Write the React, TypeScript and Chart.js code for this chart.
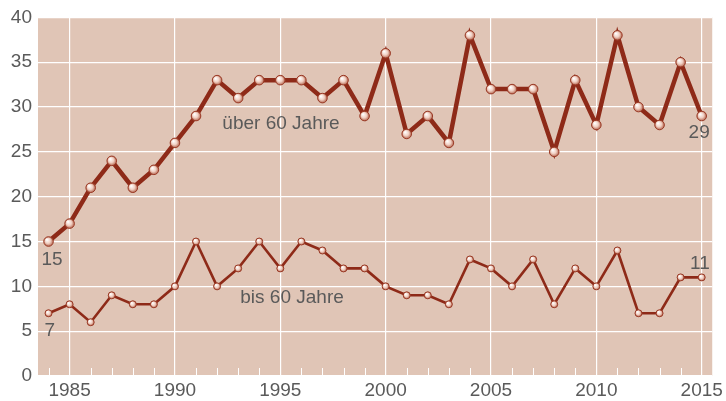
import React, { useEffect, useRef } from "react";
import { Chart, registerables } from "chart.js";

Chart.register(...registerables);

const years = [1984, 1985, 1986, 1987, 1988, 1989, 1990, 1991, 1992, 1993, 1994, 1995, 1996, 1997, 1998, 1999, 2000, 2001, 2002, 2003, 2004, 2005, 2006, 2007, 2008, 2009, 2010, 2011, 2012, 2013, 2014, 2015];
const over60 = [15, 17, 21, 24, 21, 23, 26, 29, 33, 31, 33, 33, 33, 31, 33, 29, 36, 27, 29, 26, 38, 32, 32, 32, 25, 33, 28, 38, 30, 28, 35, 29];
const upTo60 = [7, 8, 6, 9, 8, 8, 10, 15, 10, 12, 15, 12, 15, 14, 12, 12, 10, 9, 9, 8, 13, 12, 10, 13, 8, 12, 10, 14, 7, 7, 11, 11];
const yTicks = [0, 5, 10, 15, 20, 25, 30, 35, 40];
const seriesLabels = ["über 60 Jahre", "bis 60 Jahre"];

const LINE = "#8e2a18";
const BG = "#e0c5b6";
const TEXT = "#5a5a5a";
const FONT = "'Liberation Sans', Arial, sans-serif";

const bgPlugin = {
  id: "bgPlugin",
  beforeDraw(chart: any) {
    const { ctx, chartArea: a } = chart;
    ctx.save();
    ctx.fillStyle = BG;
    ctx.fillRect(a.left, a.top, a.right - a.left, a.bottom - a.top);
    ctx.restore();
  },
  beforeDatasetsDraw(chart: any) {
    const { ctx, chartArea: a, scales } = chart;
    ctx.save();
    ctx.strokeStyle = "#ffffff";
    ctx.lineWidth = 1;
    years.forEach((yr) => {
      if (yr % 5 === 0) return;
      const x = Math.round(scales.x.getPixelForValue(yr)) + 0.5;
      ctx.beginPath();
      ctx.moveTo(x, a.bottom - 8);
      ctx.lineTo(x, a.bottom);
      ctx.stroke();
    });
    ctx.restore();
  },
  afterDatasetsDraw(chart: any) {
    const { ctx, scales } = chart;
    chart.data.datasets.forEach((ds: any, di: number) => {
      const meta = chart.getDatasetMeta(di);
      const r = ds.pointRadius;
      meta.data.forEach((pt: any) => {
        const x = pt.x;
        const y = pt.y;
        if (!isFinite(x) || !isFinite(y)) return;
        const g = ctx.createRadialGradient(x - r * 0.35, y - r * 0.4, 0.3, x, y, r);
        g.addColorStop(0, "#ffffff");
        g.addColorStop(0.55, "#f0cfc2");
        g.addColorStop(1, "#b5654f");
        ctx.save();
        ctx.beginPath();
        ctx.arc(x, y, r, 0, Math.PI * 2);
        ctx.fillStyle = g;
        ctx.fill();
        ctx.lineWidth = 1;
        ctx.strokeStyle = "#9a3a26";
        ctx.stroke();
        ctx.restore();
      });
    });
    const sx = scales.x;
    const sy = scales.y;
    ctx.save();
    ctx.fillStyle = TEXT;
    ctx.font = `19px ${FONT}`;
    ctx.textBaseline = "alphabetic";
    const n = years.length - 1;
    ctx.textAlign = "left";
    ctx.fillText(String(over60[0]), sx.getPixelForValue(years[0]) - 7, sy.getPixelForValue(over60[0]) + 23);
    ctx.fillText(String(upTo60[0]), sx.getPixelForValue(years[0]) - 4, sy.getPixelForValue(upTo60[0]) + 23);
    ctx.textAlign = "right";
    ctx.fillText(String(over60[n]), sx.getPixelForValue(years[n]) + 8, sy.getPixelForValue(over60[n]) + 22);
    ctx.fillText(String(upTo60[n]), sx.getPixelForValue(years[n]) + 8, sy.getPixelForValue(upTo60[n]) - 8);
    ctx.textAlign = "left";
    ctx.fillText(seriesLabels[0], sx.getPixelForValue(1992.25), sy.getPixelForValue(27.6));
    ctx.fillText(seriesLabels[1], sx.getPixelForValue(1993.1), sy.getPixelForValue(8.1));
    ctx.restore();
  },
};

export default function App() {
  const ref = useRef<HTMLCanvasElement | null>(null);
  useEffect(() => {
    document.body.style.margin = "0";
    const canvas = ref.current!;
    const chart = new Chart(canvas, {
      type: "line",
      data: {
        datasets: [
          {
            label: seriesLabels[0],
            data: years.map((x, i) => ({ x, y: over60[i] })),
            borderColor: LINE,
            borderWidth: 4.5,
            pointRadius: 4.8,
            pointBorderWidth: 0,
            pointBackgroundColor: "rgba(0,0,0,0)",
            tension: 0,
          } as any,
          {
            label: seriesLabels[1],
            data: years.map((x, i) => ({ x, y: upTo60[i] })),
            borderColor: LINE,
            borderWidth: 2.6,
            pointRadius: 3.5,
            pointBorderWidth: 0,
            pointBackgroundColor: "rgba(0,0,0,0)",
            tension: 0,
          } as any,
        ],
      },
      options: {
        animation: false,
        responsive: false,
        maintainAspectRatio: false,
        layout: { padding: { top: 16, right: 11, left: 0, bottom: 0 } },
        plugins: { legend: { display: false }, tooltip: { enabled: false }, title: { display: false } },
        scales: {
          x: {
            type: "linear",
            min: 1983.5,
            max: 2015.5,
            border: { display: false },
            afterBuildTicks: (s: any) => {
              s.ticks = years.filter((v) => v % 5 === 0).map((v) => ({ value: v }));
            },
            afterFit: (s: any) => {
              s.height = 25;
            },
            grid: { color: "#ffffff", lineWidth: 1.2, drawTicks: false },
            ticks: {
              color: TEXT,
              font: { family: FONT, size: 19 },
              padding: 3,
              maxRotation: 0,
              autoSkip: false,
              callback: (v: any) => String(v),
            },
          },
          y: {
            min: 0,
            max: 40,
            border: { display: false },
            afterBuildTicks: (s: any) => {
              s.ticks = yTicks.map((v) => ({ value: v }));
            },
            afterFit: (s: any) => {
              s.width = 38;
            },
            grid: { color: "#ffffff", lineWidth: 1.2, drawTicks: false },
            ticks: {
              color: TEXT,
              font: { family: FONT, size: 19 },
              padding: 6,
              callback: (v: any) => String(v),
            },
          },
        },
      },
      plugins: [bgPlugin],
    });
    return () => chart.destroy();
  }, []);
  return (
    <div style={{ width: 726, height: 401, background: "#ffffff" }}>
      <canvas ref={ref} width={726} height={401} style={{ display: "block" }} />
    </div>
  );
}
